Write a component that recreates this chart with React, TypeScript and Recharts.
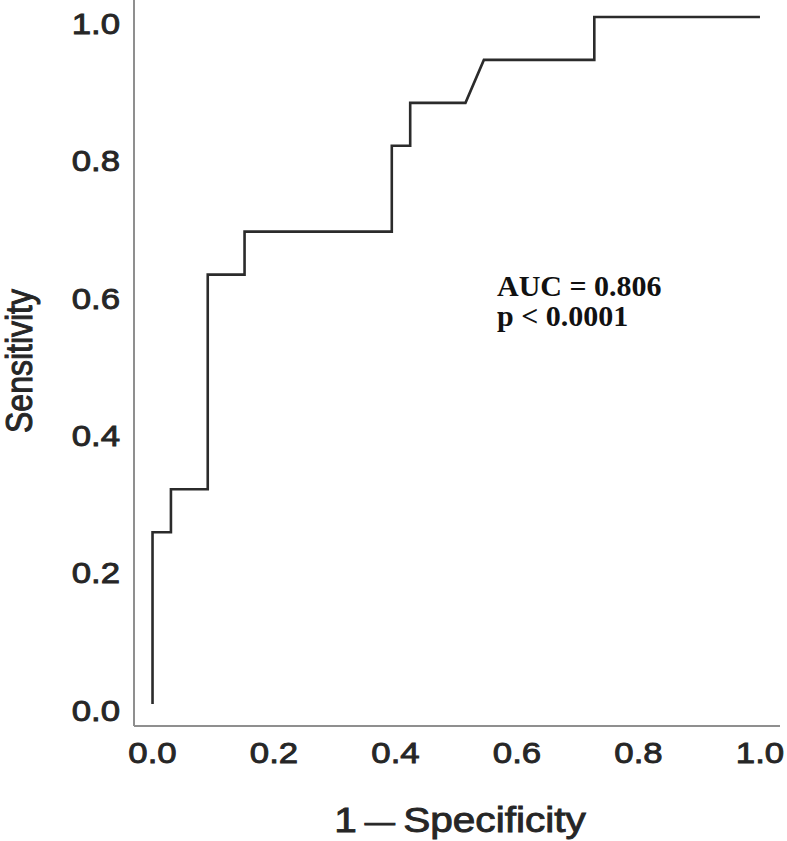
import React from "react";
import { LineChart, Line, XAxis, YAxis, Label } from "recharts";

// ROC curve points (1 - specificity, sensitivity)
const fpr = [0, 0, 0.0303, 0.0303, 0.0909, 0.0909, 0.1515, 0.1515, 0.3939, 0.3939, 0.4242, 0.4242, 0.5152, 0.5455, 0.7273, 0.7273, 1.0];
const tpr = [0, 0.25, 0.25, 0.3125, 0.3125, 0.625, 0.625, 0.6875, 0.6875, 0.8125, 0.8125, 0.875, 0.875, 0.9375, 0.9375, 1.0, 1.0];

const xTicks = [0, 0.2, 0.4, 0.6, 0.8, 1.0];
const yTicks = [0, 0.2, 0.4, 0.6, 0.8, 1.0];

const xTitle = "1—Specificity";
const yTitle = "Sensitivity";
const annotation = ["AUC = 0.806", "p < 0.0001"];

const data = fpr.map((x, i) => ({ x, y: tpr[i] }));

const FONT = "'Liberation Sans', Arial, sans-serif";
const STRETCH = 1.16;
const TXT = "#262626";
const heavy = { stroke: TXT, strokeWidth: 0.9, paintOrder: "stroke" as const };

const XTick = (props: any) => {
  const { x, y, payload } = props;
  return (
    <text
      transform={`translate(${x},${y}) scale(${STRETCH},1)`}
      textAnchor="middle"
      dy="0.36em"
      fontFamily={FONT}
      fontSize={30}
      fill={TXT}
      style={heavy}
    >
      {Number(payload.value).toFixed(1)}
    </text>
  );
};

const YTick = (props: any) => {
  const { x, y, payload } = props;
  return (
    <text
      transform={`translate(${x},${y + 6}) scale(${STRETCH},1)`}
      textAnchor="end"
      dy="0.36em"
      fontFamily={FONT}
      fontSize={30}
      fill={TXT}
      style={heavy}
    >
      {Number(payload.value).toFixed(1)}
    </text>
  );
};

const XTitle = (props: any) => {
  const vb = props.viewBox;
  const cx = vb.x + vb.width / 2 + 3;
  const by = vb.y + 106;
  const parts = xTitle.split("—");
  return (
    <text
      transform={`translate(${cx},${by}) scale(${STRETCH},1)`}
      textAnchor="middle"
      fontFamily={FONT}
      fontSize={35}
      fill={TXT}
      style={heavy}
    >
      {parts[0]}
      <tspan fontSize={26} dx={7} dy={-1}>—</tspan>
      <tspan dx={7} dy={1}>{parts[1]}</tspan>
    </text>
  );
};

const YTitle = (props: any) => {
  const vb = props.viewBox;
  const cy = vb.y + vb.height / 2 - 2;
  return (
    <text
      transform={`translate(32,${cy}) scale(${STRETCH},1) rotate(-90)`}
      textAnchor="middle"
      fontFamily={FONT}
      fontSize={32}
      fill={TXT}
      style={heavy}
    >
      {yTitle}
    </text>
  );
};

export default function App() {
  return (
    <div style={{ position: "absolute", left: 0, top: 0, width: 787, height: 841, background: "#fff" }}>
      <LineChart
        width={787}
        height={841}
        data={data}
        margin={{ top: 0, right: 7, bottom: 0, left: 0 }}
      >
        <XAxis
          type="number"
          dataKey="x"
          domain={[-0.0305, 1.033]}
          ticks={xTicks}
          allowDataOverflow
          height={115}
          tickLine={false}
          tickSize={0}
          tickMargin={26}
          axisLine={{ stroke: "#8f8f8f", strokeWidth: 2 }}
          tick={<XTick />}
          interval={0}
        >
          <Label content={<XTitle />} position="center" />
        </XAxis>
        <YAxis
          type="number"
          dataKey="y"
          domain={[-0.032, 1.0247]}
          ticks={yTicks}
          allowDataOverflow
          width={134}
          tickLine={false}
          tickSize={0}
          tickMargin={14}
          axisLine={{ stroke: "#8f8f8f", strokeWidth: 2 }}
          tick={<YTick />}
          interval={0}
        >
          <Label content={<YTitle />} position="center" />
        </YAxis>
        <Line
          type="linear"
          dataKey="y"
          stroke="#2b2b2b"
          strokeWidth={2.6}
          dot={false}
          activeDot={false}
          isAnimationActive={false}
        />
      </LineChart>
      <div
        style={{
          position: "absolute",
          left: 497,
          top: 271,
          fontFamily: "'Liberation Serif', 'Times New Roman', serif",
          fontWeight: "bold",
          fontSize: 30,
          lineHeight: "30px",
          color: "#111",
          whiteSpace: "nowrap",
        }}
      >
        <div>{annotation[0]}</div>
        <div>{annotation[1]}</div>
      </div>
    </div>
  );
}
